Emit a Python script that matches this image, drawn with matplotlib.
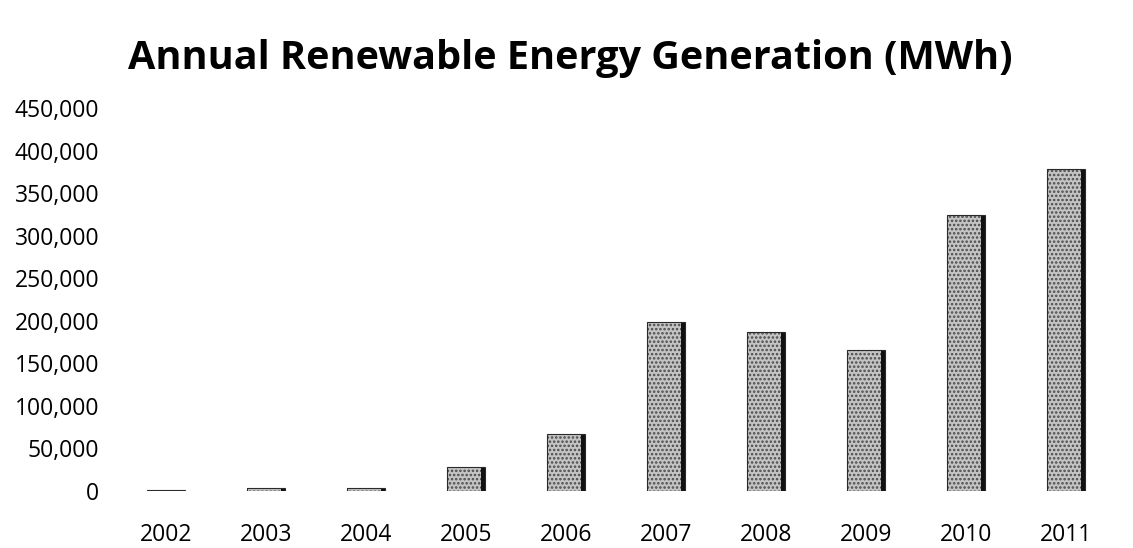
import matplotlib
matplotlib.use("Agg")
import matplotlib.pyplot as plt
from matplotlib.ticker import FuncFormatter, MultipleLocator

years = ["2002", "2003", "2004", "2005", "2006", "2007", "2008", "2009", "2010", "2011"]
generation_mwh = [1500, 4000, 4000, 28000, 67000, 199000, 186500, 165500, 324500, 378500]

title = "Annual Renewable Energy Generation (MWh)"

plt.rcParams["font.family"] = ["Open Sans", "DejaVu Sans"]
plt.rcParams["hatch.linewidth"] = 1.2

fig = plt.figure(figsize=(11.33, 5.48), dpi=100)
ax = fig.add_axes([116 / 1133, 57 / 548, 1000 / 1133, 383 / 548])

x = list(range(len(years)))
width = 0.38
ax.bar(x, generation_mwh, width=width, color="#c4c4c4", edgecolor="#4a4a4a",
       linewidth=0, hatch="....", zorder=2)
# dark shaded right edge of each bar
ax.bar([i + width / 2 for i in x], generation_mwh, width=-0.04, align="edge",
       color="#111111", linewidth=0, zorder=3)
# thin dark outline
ax.bar(x, generation_mwh, width=width, fill=False, edgecolor="#2a2a2a",
       linewidth=0.8, zorder=3)

ax.set_xlim(-0.5, len(years) - 0.5)
ax.set_ylim(0, 450000)
ax.yaxis.set_major_locator(MultipleLocator(50000))
ax.yaxis.set_major_formatter(FuncFormatter(lambda v, p: f"{int(v):,}"))
ax.set_xticks(x)
ax.set_xticklabels(years)
ax.tick_params(axis="both", length=0, labelsize=16.5, colors="black")
ax.tick_params(axis="y", pad=12)
ax.tick_params(axis="x", pad=23)
for s in ax.spines.values():
    s.set_visible(False)

fig.text(570 / 1133, 1 - 59 / 548, title, ha="center", va="center",
         fontsize=28.5, fontweight="bold", color="black")

fig.savefig("out.png", dpi=100, facecolor="white")
